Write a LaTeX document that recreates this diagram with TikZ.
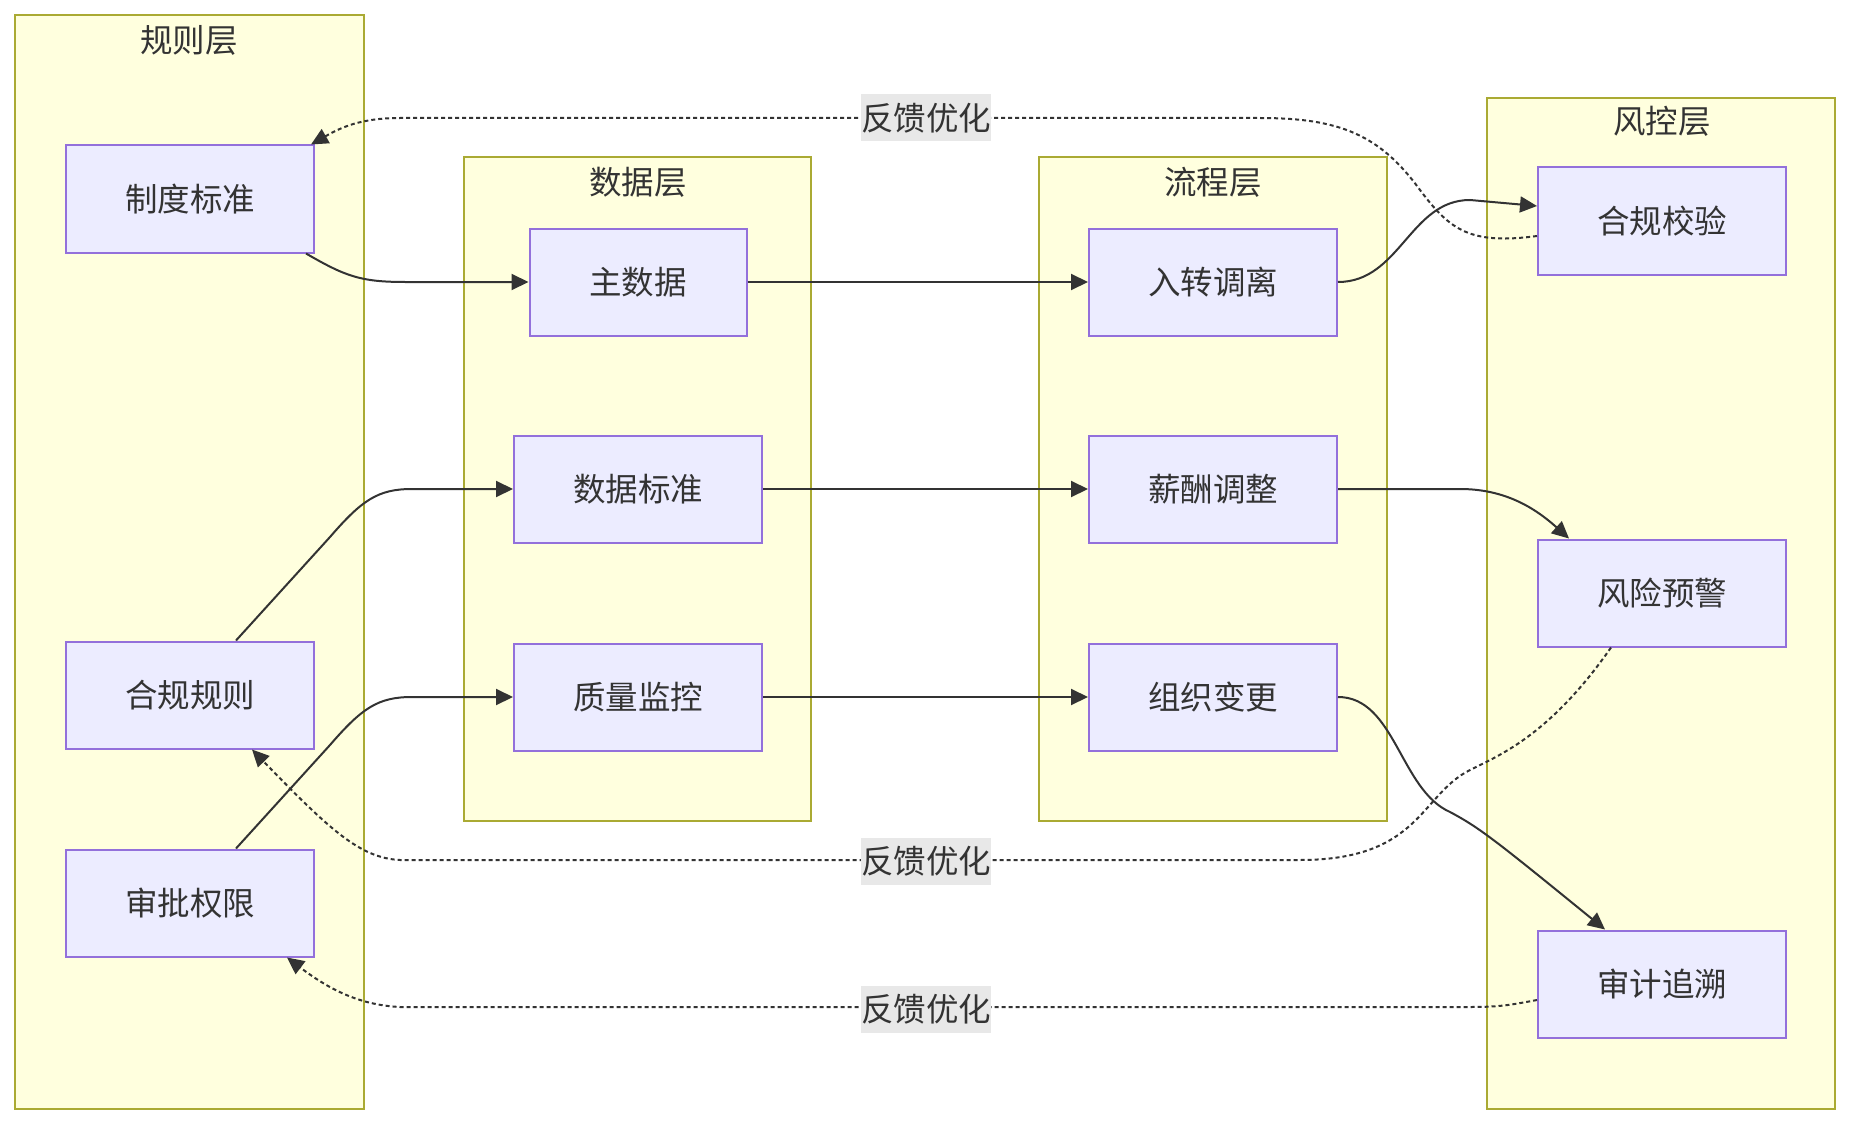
\documentclass[tikz,border=0pt]{standalone}
\usepackage{fontspec}
\setmainfont{Noto Sans CJK SC}
\usetikzlibrary{arrows.meta,calc}
\definecolor{clfill}{HTML}{FFFFDE}
\definecolor{cldraw}{HTML}{AAAA33}
\definecolor{ndfill}{HTML}{ECECFF}
\definecolor{nddraw}{HTML}{9370DB}
\definecolor{txt}{HTML}{333333}
\definecolor{lblbg}{HTML}{E8E8E8}
\begin{document}
\begin{tikzpicture}[x=1pt,y=-1pt,
 cluster/.style={draw=cldraw,fill=clfill,line width=2pt},
 box/.style={draw=nddraw,fill=ndfill,line width=2pt,minimum width=248pt,minimum height=107pt,text=txt,font=\fontsize{32.5}{36}\selectfont,inner sep=0pt},
 ttl/.style={text=txt,font=\fontsize{32.5}{36}\selectfont,inner sep=0pt},
 edge/.style={draw=txt,line width=2pt,-{Triangle[length=17pt,width=16pt]}},
 fb/.style={edge,dash pattern=on 4pt off 3pt},
 lbl/.style={fill=lblbg,text=txt,font=\fontsize{32.5}{36}\selectfont,inner xsep=0pt,inner ysep=0pt,minimum height=47pt}
]
\useasboundingbox (0,0) rectangle (1852,1126);
% clusters
\draw[cluster] (15,15) rectangle (364,1109);
\draw[cluster] (464,157) rectangle (811,821);
\draw[cluster] (1039,157) rectangle (1387,821);
\draw[cluster] (1487,98) rectangle (1835,1109);
\node[ttl] (t1) at (189,40) {规则层};
\node[ttl] (t2) at (638,182) {数据层};
\node[ttl] (t3) at (1213,182) {流程层};
\node[ttl] (t4) at (1662,121) {风控层};
% nodes
\node[box] (zd) at (190,199) {制度标准};
\node[box] (hggz) at (190,695) {合规规则};
\node[box] (spqx) at (190,903) {审批权限};
\node[box,minimum width=217pt] (zsj) at (638,282) {主数据};
\node[box] (sjbz) at (638,489) {数据标准};
\node[box] (zljk) at (638,697) {质量监控};
\node[box] (rzdl) at (1213,282) {入转调离};
\node[box] (xctz) at (1213,489) {薪酬调整};
\node[box] (zzbg) at (1213,697) {组织变更};
\node[box] (hgjy) at (1662,221) {合规校验};
\node[box] (fxyj) at (1662,593) {风险预警};
\node[box] (sjzs) at (1662,984) {审计追溯};
% solid edges
\draw[edge] ($(zd.south east)+(-9,0)$) .. controls (345,276) and (360,282) .. (405,282) -- (zsj.west);
\draw[edge] ($(hggz.north)+(46,0)$) -- (330,537) .. controls (362,500) and (378,489) .. (412,489) -- (sjbz.west);
\draw[edge] ($(spqx.north)+(46,0)$) -- (330,745) .. controls (362,708) and (378,697) .. (412,697) -- (zljk.west);
\draw[edge] (zsj.east) -- (rzdl.west);
\draw[edge] (sjbz.east) -- (xctz.west);
\draw[edge] (zljk.east) -- (zzbg.west);
\draw[edge] (rzdl.east) .. controls (1400,282) and (1410,200) .. (1470,200) -- ($(hgjy.west)+(0,-15)$);
\draw[edge] (xctz.east) -- (1460,489) .. controls (1505,489) and (1535,508) .. ($(fxyj.north west)+(32,0)$);
\draw[edge] (zzbg.east) .. controls (1395,697) and (1400,790) .. (1450,812) .. controls (1480,828) and (1495,840) .. ($(sjzs.north west)+(68,0)$);
% feedback edges
\draw[fb] ($(hgjy.west)+(0,15)$) .. controls (1470,245) and (1450,230) .. (1420,190) .. controls (1380,135) and (1340,118) .. (1260,118) -- (400,118) .. controls (360,118) and (340,128) .. ($(zd.north east)+(-4,0)$);
\draw[fb] ($(fxyj.south)+(-51,0)$) .. controls (1550,735) and (1500,755) .. (1470,770) .. controls (1420,795) and (1420,860) .. (1300,860) -- (400,860) .. controls (360,858) and (330,830) .. ($(hggz.south)+(62,0)$);
\draw[fb] ($(sjzs.west)+(0,16)$) .. controls (1510,1005) and (1500,1007) .. (1470,1007) -- (400,1007) .. controls (360,1005) and (330,990) .. ($(spqx.south)+(97,0)$);
% labels
\node[lbl] (l1) at (926,118) {反馈优化};
\node[lbl] (l2) at (926,861) {反馈优化};
\node[lbl] (l3) at (926,1009) {反馈优化};
\end{tikzpicture}
\end{document}
